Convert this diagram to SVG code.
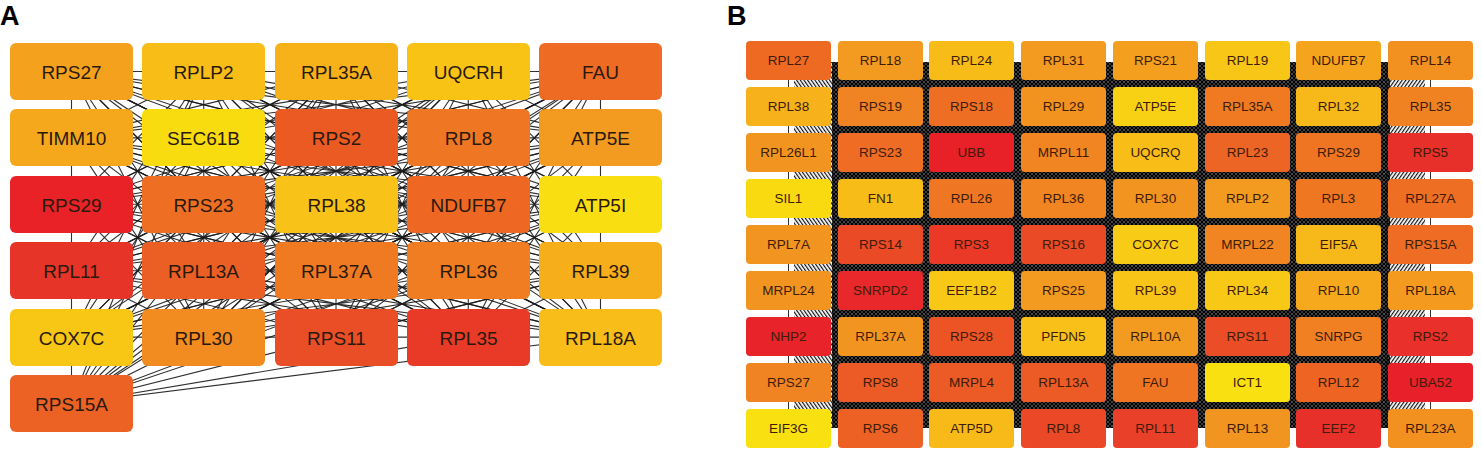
<svg xmlns="http://www.w3.org/2000/svg" width="1482" height="454" viewBox="0 0 1482 454">
<style>
.lbl{font-family:"Liberation Sans",Arial,sans-serif;font-weight:bold;font-size:27px;fill:#000}
.na text{font-family:"Liberation Sans",Arial,sans-serif;font-size:19px;fill:#2a1a0e;text-anchor:middle}
.nb text{font-family:"Liberation Sans",Arial,sans-serif;font-size:13.5px;fill:#3e1c08;text-anchor:middle}
.ea path{fill:none;stroke:#1a1a1a;stroke-width:1.1;stroke-opacity:0.9}
</style>
<defs>
<pattern id="dense" width="4" height="4" patternUnits="userSpaceOnUse">
<path d="M-1 1L1 -1M0 4L4 0M3 5L5 3M-1 3L1 5M0 0L4 4M3 -1L5 1" stroke="#000" stroke-width="1.9"/>
</pattern>
<pattern id="hatchL" width="3" height="8" patternUnits="userSpaceOnUse" patternTransform="rotate(-35)">
<path d="M0.6 0V8" stroke="#111" stroke-width="1.2"/>
</pattern>
<pattern id="hatchR" width="3" height="8" patternUnits="userSpaceOnUse" patternTransform="rotate(35)">
<path d="M0.6 0V8" stroke="#111" stroke-width="1.2"/>
</pattern>
</defs>
<rect width="1482" height="454" fill="#fff"/>
<text class="lbl" x="0" y="25">A</text>
<text class="lbl" x="727" y="25">B</text>

<g id="connectors-a" class="ea" transform="translate(71.5,71.5) scale(132.25,66.4)">
<path vector-effect="non-scaling-stroke" d="M0 0L4 0M0 1L4 1M0 2L4 2M0 3L4 3M0 4L4 4M0 0L0 5M1 0L1 4M2 0L2 4M3 0L3 4M4 0L4 4"/>
<path vector-effect="non-scaling-stroke" d="M0 0L1 1M0 0L2 1M0 0L3 1M0 0L4 1M1 0L0 1M1 0L2 1M1 0L3 1M1 0L4 1M2 0L0 1M2 0L1 1M2 0L3 1M2 0L4 1M3 0L0 1M3 0L1 1M3 0L2 1M3 0L4 1M4 0L0 1M4 0L1 1M4 0L2 1M4 0L3 1"/>
<path vector-effect="non-scaling-stroke" d="M0 1L1 2M0 1L2 2M0 1L3 2M0 1L4 2M1 1L0 2M1 1L2 2M1 1L3 2M1 1L4 2M2 1L0 2M2 1L1 2M2 1L3 2M2 1L4 2M3 1L0 2M3 1L1 2M3 1L2 2M3 1L4 2M4 1L0 2M4 1L1 2M4 1L2 2M4 1L3 2"/>
<path vector-effect="non-scaling-stroke" d="M0 2L1 3M0 2L2 3M0 2L3 3M0 2L4 3M1 2L0 3M1 2L2 3M1 2L3 3M1 2L4 3M2 2L0 3M2 2L1 3M2 2L3 3M2 2L4 3M3 2L0 3M3 2L1 3M3 2L2 3M3 2L4 3M4 2L0 3M4 2L1 3M4 2L2 3M4 2L3 3"/>
<path vector-effect="non-scaling-stroke" d="M0 3L1 4M0 3L2 4M0 3L3 4M0 3L4 4M1 3L0 4M1 3L2 4M1 3L3 4M1 3L4 4M2 3L0 4M2 3L1 4M2 3L3 4M2 3L4 4M3 3L0 4M3 3L1 4M3 3L2 4M3 3L4 4M4 3L0 4M4 3L1 4M4 3L2 4M4 3L3 4"/>
<path vector-effect="non-scaling-stroke" d="M0 0L1 2M0 0L2 2M0 0L3 2M0 0L4 2M1 0L0 2M1 0L2 2M1 0L3 2M1 0L4 2M2 0L0 2M2 0L1 2M2 0L3 2M2 0L4 2M3 0L0 2M3 0L1 2M3 0L2 2M3 0L4 2M4 0L0 2M4 0L1 2M4 0L2 2M4 0L3 2"/>
<path vector-effect="non-scaling-stroke" d="M0 1L1 3M0 1L2 3M0 1L3 3M0 1L4 3M1 1L0 3M1 1L2 3M1 1L3 3M1 1L4 3M2 1L0 3M2 1L1 3M2 1L3 3M2 1L4 3M3 1L0 3M3 1L1 3M3 1L2 3M3 1L4 3M4 1L0 3M4 1L1 3M4 1L2 3M4 1L3 3"/>
<path vector-effect="non-scaling-stroke" d="M0 2L1 4M0 2L2 4M0 2L3 4M0 2L4 4M1 2L0 4M1 2L2 4M1 2L3 4M1 2L4 4M2 2L0 4M2 2L1 4M2 2L3 4M2 2L4 4M3 2L0 4M3 2L1 4M3 2L2 4M3 2L4 4M4 2L0 4M4 2L1 4M4 2L2 4M4 2L3 4"/>
<path vector-effect="non-scaling-stroke" d="M0 0L1 3M0 0L2 3M0 0L3 3M0 0L4 3M1 0L0 3M1 0L2 3M1 0L3 3M1 0L4 3M2 0L0 3M2 0L1 3M2 0L3 3M2 0L4 3M3 0L0 3M3 0L1 3M3 0L2 3M3 0L4 3M4 0L0 3M4 0L1 3M4 0L2 3M4 0L3 3"/>
<path vector-effect="non-scaling-stroke" d="M0 1L1 4M0 1L2 4M0 1L3 4M0 1L4 4M1 1L0 4M1 1L2 4M1 1L3 4M1 1L4 4M2 1L0 4M2 1L1 4M2 1L3 4M2 1L4 4M3 1L0 4M3 1L1 4M3 1L2 4M3 1L4 4M4 1L0 4M4 1L1 4M4 1L2 4M4 1L3 4"/>
<path vector-effect="non-scaling-stroke" d="M0 0L1 4M0 0L2 4M0 0L3 4M0 0L4 4M1 0L0 4M1 0L2 4M1 0L3 4M1 0L4 4M2 0L0 4M2 0L1 4M2 0L3 4M2 0L4 4M3 0L0 4M3 0L1 4M3 0L2 4M3 0L4 4M4 0L0 4M4 0L1 4M4 0L2 4M4 0L3 4"/>
<path vector-effect="non-scaling-stroke" d="M0 5L1 0M0 5L2 0M0 5L3 0M0 5L4 0M0 5L1 1M0 5L2 1M0 5L3 1M0 5L4 1M0 5L1 2M0 5L2 2M0 5L3 2M0 5L4 2M0 5L1 3M0 5L2 3M0 5L3 3M0 5L4 3M0 5L1 4M0 5L2 4M0 5L3 4M0 5L4 4"/>
</g>

<g id="connectors-b">
<rect x="832" y="62" width="558" height="366" fill="url(#dense)"/>
<rect x="794" y="62" width="40" height="366" fill="url(#hatchL)"/>
<rect x="1386" y="62" width="39" height="366" fill="url(#hatchR)"/>
<path d="M788.5 60V429M1430.5 60V429" stroke="#333" stroke-width="1"/>
</g>

<g id="nodes-a" class="na">
<g id="a-RPS27"><rect x="10" y="43" width="123" height="57" rx="6" fill="#F4A21E"/><text x="71.5" y="78.5">RPS27</text></g>
<g id="a-RPLP2"><rect x="142" y="43" width="123" height="57" rx="6" fill="#F8BD17"/><text x="203.5" y="78.5">RPLP2</text></g>
<g id="a-RPL35A"><rect x="275" y="43" width="123" height="57" rx="6" fill="#F7B21A"/><text x="336.5" y="78.5">RPL35A</text></g>
<g id="a-UQCRH"><rect x="407" y="43" width="123" height="57" rx="6" fill="#F9C315"/><text x="468.5" y="78.5">UQCRH</text></g>
<g id="a-FAU"><rect x="539" y="43" width="123" height="57" rx="6" fill="#EE6B24"/><text x="600.5" y="78.5">FAU</text></g>
<g id="a-TIMM10"><rect x="10" y="109" width="123" height="57" rx="6" fill="#F6A81D"/><text x="71.5" y="144.5">TIMM10</text></g>
<g id="a-SEC61B"><rect x="142" y="109" width="123" height="57" rx="6" fill="#F8DC10"/><text x="203.5" y="144.5">SEC61B</text></g>
<g id="a-RPS2"><rect x="275" y="109" width="123" height="57" rx="6" fill="#EC5A24"/><text x="336.5" y="144.5">RPS2</text></g>
<g id="a-RPL8"><rect x="407" y="109" width="123" height="57" rx="6" fill="#EF7622"/><text x="468.5" y="144.5">RPL8</text></g>
<g id="a-ATP5E"><rect x="539" y="109" width="123" height="57" rx="6" fill="#F39B20"/><text x="600.5" y="144.5">ATP5E</text></g>
<g id="a-RPS29"><rect x="10" y="176" width="123" height="57" rx="6" fill="#E82227"/><text x="71.5" y="211.5">RPS29</text></g>
<g id="a-RPS23"><rect x="142" y="176" width="123" height="57" rx="6" fill="#EE6E23"/><text x="203.5" y="211.5">RPS23</text></g>
<g id="a-RPL38"><rect x="275" y="176" width="123" height="57" rx="6" fill="#F8C218"/><text x="336.5" y="211.5">RPL38</text></g>
<g id="a-NDUFB7"><rect x="407" y="176" width="123" height="57" rx="6" fill="#EE6823"/><text x="468.5" y="211.5">NDUFB7</text></g>
<g id="a-ATP5I"><rect x="539" y="176" width="123" height="57" rx="6" fill="#F9DF11"/><text x="600.5" y="211.5">ATP5I</text></g>
<g id="a-RPL11"><rect x="10" y="242" width="123" height="57" rx="6" fill="#E73428"/><text x="71.5" y="277.5">RPL11</text></g>
<g id="a-RPL13A"><rect x="142" y="242" width="123" height="57" rx="6" fill="#EC5F24"/><text x="203.5" y="277.5">RPL13A</text></g>
<g id="a-RPL37A"><rect x="275" y="242" width="123" height="57" rx="6" fill="#F07A22"/><text x="336.5" y="277.5">RPL37A</text></g>
<g id="a-RPL36"><rect x="407" y="242" width="123" height="57" rx="6" fill="#F07D22"/><text x="468.5" y="277.5">RPL36</text></g>
<g id="a-RPL39"><rect x="539" y="242" width="123" height="57" rx="6" fill="#F7AE1B"/><text x="600.5" y="277.5">RPL39</text></g>
<g id="a-COX7C"><rect x="10" y="309" width="123" height="57" rx="6" fill="#F8C716"/><text x="71.5" y="344.5">COX7C</text></g>
<g id="a-RPL30"><rect x="142" y="309" width="123" height="57" rx="6" fill="#F28B20"/><text x="203.5" y="344.5">RPL30</text></g>
<g id="a-RPS11"><rect x="275" y="309" width="123" height="57" rx="6" fill="#EA4E26"/><text x="336.5" y="344.5">RPS11</text></g>
<g id="a-RPL35"><rect x="407" y="309" width="123" height="57" rx="6" fill="#E83A27"/><text x="468.5" y="344.5">RPL35</text></g>
<g id="a-RPL18A"><rect x="539" y="309" width="123" height="57" rx="6" fill="#F8BD18"/><text x="600.5" y="344.5">RPL18A</text></g>
<g id="a-RPS15A"><rect x="10" y="375" width="123" height="57" rx="6" fill="#EC6224"/><text x="71.5" y="410.5">RPS15A</text></g>
</g>

<g id="nodes-b" class="nb">
<g id="b-RPL27"><rect x="746" y="41" width="85" height="39" rx="4" fill="#EE6A23"/><text x="788.5" y="65.3">RPL27</text></g>
<g id="b-RPL18"><rect x="838" y="41" width="85" height="39" rx="4" fill="#F39A20"/><text x="880.5" y="65.3">RPL18</text></g>
<g id="b-RPL24"><rect x="929" y="41" width="85" height="39" rx="4" fill="#F8BC18"/><text x="971.5" y="65.3">RPL24</text></g>
<g id="b-RPL31"><rect x="1021" y="41" width="85" height="39" rx="4" fill="#F39A20"/><text x="1063.5" y="65.3">RPL31</text></g>
<g id="b-RPS21"><rect x="1113" y="41" width="85" height="39" rx="4" fill="#F4A01E"/><text x="1155.5" y="65.3">RPS21</text></g>
<g id="b-RPL19"><rect x="1205" y="41" width="85" height="39" rx="4" fill="#F8C617"/><text x="1247.5" y="65.3">RPL19</text></g>
<g id="b-NDUFB7"><rect x="1296" y="41" width="85" height="39" rx="4" fill="#F5A51D"/><text x="1338.5" y="65.3">NDUFB7</text></g>
<g id="b-RPL14"><rect x="1388" y="41" width="85" height="39" rx="4" fill="#F29020"/><text x="1430.5" y="65.3">RPL14</text></g>

<g id="b-RPL38"><rect x="746" y="87" width="85" height="39" rx="4" fill="#F7B21B"/><text x="788.5" y="111.3">RPL38</text></g>
<g id="b-RPS19"><rect x="838" y="87" width="85" height="39" rx="4" fill="#F08322"/><text x="880.5" y="111.3">RPS19</text></g>
<g id="b-RPS18"><rect x="929" y="87" width="85" height="39" rx="4" fill="#EE6E23"/><text x="971.5" y="111.3">RPS18</text></g>
<g id="b-RPL29"><rect x="1021" y="87" width="85" height="39" rx="4" fill="#F2921F"/><text x="1063.5" y="111.3">RPL29</text></g>
<g id="b-ATP5E"><rect x="1113" y="87" width="85" height="39" rx="4" fill="#F8D014"/><text x="1155.5" y="111.3">ATP5E</text></g>
<g id="b-RPL35A"><rect x="1205" y="87" width="85" height="39" rx="4" fill="#EF7A22"/><text x="1247.5" y="111.3">RPL35A</text></g>
<g id="b-RPL32"><rect x="1296" y="87" width="85" height="39" rx="4" fill="#F7B81A"/><text x="1338.5" y="111.3">RPL32</text></g>
<g id="b-RPL35"><rect x="1388" y="87" width="85" height="39" rx="4" fill="#F08222"/><text x="1430.5" y="111.3">RPL35</text></g>

<g id="b-RPL26L1"><rect x="746" y="133" width="85" height="39" rx="4" fill="#F29420"/><text x="788.5" y="157.3">RPL26L1</text></g>
<g id="b-RPS23"><rect x="838" y="133" width="85" height="39" rx="4" fill="#EE6C23"/><text x="880.5" y="157.3">RPS23</text></g>
<g id="b-UBB"><rect x="929" y="133" width="85" height="39" rx="4" fill="#E82028"/><text x="971.5" y="157.3">UBB</text></g>
<g id="b-MRPL11"><rect x="1021" y="133" width="85" height="39" rx="4" fill="#F08522"/><text x="1063.5" y="157.3">MRPL11</text></g>
<g id="b-UQCRQ"><rect x="1113" y="133" width="85" height="39" rx="4" fill="#F8BE17"/><text x="1155.5" y="157.3">UQCRQ</text></g>
<g id="b-RPL23"><rect x="1205" y="133" width="85" height="39" rx="4" fill="#ED6524"/><text x="1247.5" y="157.3">RPL23</text></g>
<g id="b-RPS29"><rect x="1296" y="133" width="85" height="39" rx="4" fill="#EF7522"/><text x="1338.5" y="157.3">RPS29</text></g>
<g id="b-RPS5"><rect x="1388" y="133" width="85" height="39" rx="4" fill="#E8302A"/><text x="1430.5" y="157.3">RPS5</text></g>

<g id="b-SIL1"><rect x="746" y="179" width="85" height="39" rx="4" fill="#F9DA10"/><text x="788.5" y="203.3">SIL1</text></g>
<g id="b-FN1"><rect x="838" y="179" width="85" height="39" rx="4" fill="#F8BC18"/><text x="880.5" y="203.3">FN1</text></g>
<g id="b-RPL26"><rect x="929" y="179" width="85" height="39" rx="4" fill="#EF7622"/><text x="971.5" y="203.3">RPL26</text></g>
<g id="b-RPL36"><rect x="1021" y="179" width="85" height="39" rx="4" fill="#F08522"/><text x="1063.5" y="203.3">RPL36</text></g>
<g id="b-RPL30"><rect x="1113" y="179" width="85" height="39" rx="4" fill="#F29420"/><text x="1155.5" y="203.3">RPL30</text></g>
<g id="b-RPLP2"><rect x="1205" y="179" width="85" height="39" rx="4" fill="#F39A20"/><text x="1247.5" y="203.3">RPLP2</text></g>
<g id="b-RPL3"><rect x="1296" y="179" width="85" height="39" rx="4" fill="#EF7722"/><text x="1338.5" y="203.3">RPL3</text></g>
<g id="b-RPL27A"><rect x="1388" y="179" width="85" height="39" rx="4" fill="#EE6E23"/><text x="1430.5" y="203.3">RPL27A</text></g>

<g id="b-RPL7A"><rect x="746" y="225" width="85" height="39" rx="4" fill="#F29420"/><text x="788.5" y="249.3">RPL7A</text></g>
<g id="b-RPS14"><rect x="838" y="225" width="85" height="39" rx="4" fill="#EA4A26"/><text x="880.5" y="249.3">RPS14</text></g>
<g id="b-RPS3"><rect x="929" y="225" width="85" height="39" rx="4" fill="#EA3A27"/><text x="971.5" y="249.3">RPS3</text></g>
<g id="b-RPS16"><rect x="1021" y="225" width="85" height="39" rx="4" fill="#EB4A26"/><text x="1063.5" y="249.3">RPS16</text></g>
<g id="b-COX7C"><rect x="1113" y="225" width="85" height="39" rx="4" fill="#F8CC16"/><text x="1155.5" y="249.3">COX7C</text></g>
<g id="b-MRPL22"><rect x="1205" y="225" width="85" height="39" rx="4" fill="#F08522"/><text x="1247.5" y="249.3">MRPL22</text></g>
<g id="b-EIF5A"><rect x="1296" y="225" width="85" height="39" rx="4" fill="#F7B81A"/><text x="1338.5" y="249.3">EIF5A</text></g>
<g id="b-RPS15A"><rect x="1388" y="225" width="85" height="39" rx="4" fill="#EE6C23"/><text x="1430.5" y="249.3">RPS15A</text></g>

<g id="b-MRPL24"><rect x="746" y="271" width="85" height="39" rx="4" fill="#F29420"/><text x="788.5" y="295.3">MRPL24</text></g>
<g id="b-SNRPD2"><rect x="838" y="271" width="85" height="39" rx="4" fill="#E8282A"/><text x="880.5" y="295.3">SNRPD2</text></g>
<g id="b-EEF1B2"><rect x="929" y="271" width="85" height="39" rx="4" fill="#F8C816"/><text x="971.5" y="295.3">EEF1B2</text></g>
<g id="b-RPS25"><rect x="1021" y="271" width="85" height="39" rx="4" fill="#F39A20"/><text x="1063.5" y="295.3">RPS25</text></g>
<g id="b-RPL39"><rect x="1113" y="271" width="85" height="39" rx="4" fill="#F8C418"/><text x="1155.5" y="295.3">RPL39</text></g>
<g id="b-RPL34"><rect x="1205" y="271" width="85" height="39" rx="4" fill="#F8C817"/><text x="1247.5" y="295.3">RPL34</text></g>
<g id="b-RPL10"><rect x="1296" y="271" width="85" height="39" rx="4" fill="#F6A91D"/><text x="1338.5" y="295.3">RPL10</text></g>
<g id="b-RPL18A"><rect x="1388" y="271" width="85" height="39" rx="4" fill="#F39A1F"/><text x="1430.5" y="295.3">RPL18A</text></g>

<g id="b-NHP2"><rect x="746" y="317" width="85" height="39" rx="4" fill="#E8232A"/><text x="788.5" y="341.3">NHP2</text></g>
<g id="b-RPL37A"><rect x="838" y="317" width="85" height="39" rx="4" fill="#F29420"/><text x="880.5" y="341.3">RPL37A</text></g>
<g id="b-RPS28"><rect x="929" y="317" width="85" height="39" rx="4" fill="#EC5325"/><text x="971.5" y="341.3">RPS28</text></g>
<g id="b-PFDN5"><rect x="1021" y="317" width="85" height="39" rx="4" fill="#F8C018"/><text x="1063.5" y="341.3">PFDN5</text></g>
<g id="b-RPL10A"><rect x="1113" y="317" width="85" height="39" rx="4" fill="#F39A20"/><text x="1155.5" y="341.3">RPL10A</text></g>
<g id="b-RPS11"><rect x="1205" y="317" width="85" height="39" rx="4" fill="#EB4E26"/><text x="1247.5" y="341.3">RPS11</text></g>
<g id="b-SNRPG"><rect x="1296" y="317" width="85" height="39" rx="4" fill="#F08022"/><text x="1338.5" y="341.3">SNRPG</text></g>
<g id="b-RPS2"><rect x="1388" y="317" width="85" height="39" rx="4" fill="#E9302A"/><text x="1430.5" y="341.3">RPS2</text></g>

<g id="b-RPS27"><rect x="746" y="363" width="85" height="39" rx="4" fill="#F08322"/><text x="788.5" y="387.3">RPS27</text></g>
<g id="b-RPS8"><rect x="838" y="363" width="85" height="39" rx="4" fill="#EC5A25"/><text x="880.5" y="387.3">RPS8</text></g>
<g id="b-MRPL4"><rect x="929" y="363" width="85" height="39" rx="4" fill="#EC5A25"/><text x="971.5" y="387.3">MRPL4</text></g>
<g id="b-RPL13A"><rect x="1021" y="363" width="85" height="39" rx="4" fill="#EC5A25"/><text x="1063.5" y="387.3">RPL13A</text></g>
<g id="b-FAU"><rect x="1113" y="363" width="85" height="39" rx="4" fill="#F07522"/><text x="1155.5" y="387.3">FAU</text></g>
<g id="b-ICT1"><rect x="1205" y="363" width="85" height="39" rx="4" fill="#F9E011"/><text x="1247.5" y="387.3">ICT1</text></g>
<g id="b-RPL12"><rect x="1296" y="363" width="85" height="39" rx="4" fill="#EE6523"/><text x="1338.5" y="387.3">RPL12</text></g>
<g id="b-UBA52"><rect x="1388" y="363" width="85" height="39" rx="4" fill="#E8202A"/><text x="1430.5" y="387.3">UBA52</text></g>

<g id="b-EIF3G"><rect x="746" y="409" width="85" height="39" rx="4" fill="#F9E011"/><text x="788.5" y="433.3">EIF3G</text></g>
<g id="b-RPS6"><rect x="838" y="409" width="85" height="39" rx="4" fill="#ED6224"/><text x="880.5" y="433.3">RPS6</text></g>
<g id="b-ATP5D"><rect x="929" y="409" width="85" height="39" rx="4" fill="#F8BA18"/><text x="971.5" y="433.3">ATP5D</text></g>
<g id="b-RPL8"><rect x="1021" y="409" width="85" height="39" rx="4" fill="#EA4826"/><text x="1063.5" y="433.3">RPL8</text></g>
<g id="b-RPL11"><rect x="1113" y="409" width="85" height="39" rx="4" fill="#E9402A"/><text x="1155.5" y="433.3">RPL11</text></g>
<g id="b-RPL13"><rect x="1205" y="409" width="85" height="39" rx="4" fill="#F29420"/><text x="1247.5" y="433.3">RPL13</text></g>
<g id="b-EEF2"><rect x="1296" y="409" width="85" height="39" rx="4" fill="#E8302A"/><text x="1338.5" y="433.3">EEF2</text></g>
<g id="b-RPL23A"><rect x="1388" y="409" width="85" height="39" rx="4" fill="#F29020"/><text x="1430.5" y="433.3">RPL23A</text></g>
</g>
</svg>
